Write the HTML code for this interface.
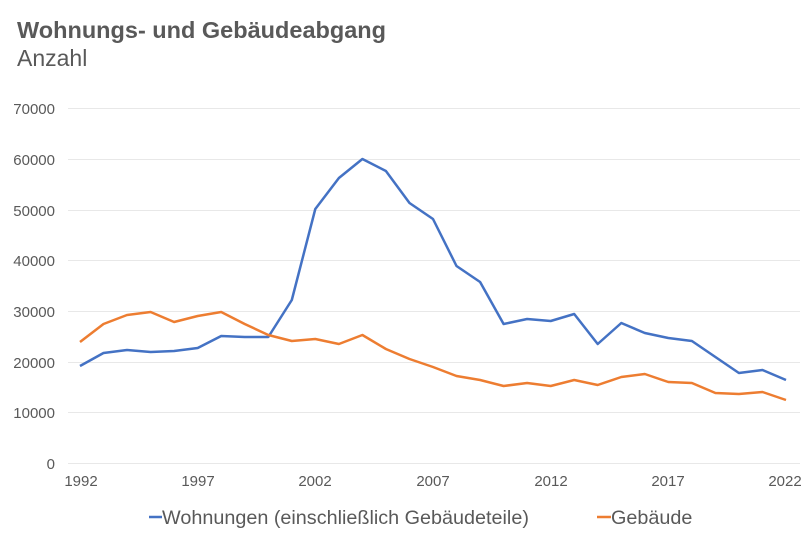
<!DOCTYPE html>
<html><head><meta charset="utf-8"><style>
body{margin:0;background:#fff;font-family:"Liberation Sans",sans-serif;}
</style></head><body>
<svg width="810" height="540" xmlns="http://www.w3.org/2000/svg" font-family="Liberation Sans, sans-serif">
<rect width="810" height="540" fill="#fff"/>
<text x="17" y="38" font-size="23.5" font-weight="bold" fill="#595959">Wohnungs- und Gebäudeabgang</text>
<text x="17" y="66" font-size="23" fill="#595959">Anzahl</text>
<g stroke="#e8e8e8" stroke-width="1">
<line x1="68" x2="800" y1="108.5" y2="108.5"/>
<line x1="68" x2="800" y1="159.5" y2="159.5"/>
<line x1="68" x2="800" y1="210.5" y2="210.5"/>
<line x1="68" x2="800" y1="260.5" y2="260.5"/>
<line x1="68" x2="800" y1="311.5" y2="311.5"/>
<line x1="68" x2="800" y1="362.5" y2="362.5"/>
<line x1="68" x2="800" y1="412.5" y2="412.5"/>
<line x1="68" x2="800" y1="463.5" y2="463.5"/>
</g>
<g font-size="15" fill="#595959" text-anchor="end">
<text x="55" y="114">70000</text><text x="55" y="165">60000</text><text x="55" y="216">50000</text>
<text x="55" y="266">40000</text><text x="55" y="317">30000</text><text x="55" y="368">20000</text>
<text x="55" y="418">10000</text><text x="55" y="469">0</text>
</g>
<g font-size="15" fill="#595959" text-anchor="middle">
<text x="81" y="486">1992</text><text x="198" y="486">1997</text><text x="315" y="486">2002</text>
<text x="433" y="486">2007</text><text x="551" y="486">2012</text><text x="668" y="486">2017</text><text x="785" y="486">2022</text>
</g>
<polyline fill="none" stroke="#4472c4" stroke-width="2.5" stroke-linejoin="round" points="80,366 103.5,353 127,350 150.6,352 174.1,351 197.7,348 221.2,336 244.7,337 268.3,337 291.8,300 315.3,209 338.9,178 362.4,159 385.9,171 409.5,203 433,219 456.5,266 480.1,282 503.6,324 527.1,319 550.7,321 574.2,314 597.7,344 621.3,323 644.8,333 668.3,338 691.9,341 715.4,357 738.9,373 762.5,370 786,380"/>
<polyline fill="none" stroke="#ed7d31" stroke-width="2.5" stroke-linejoin="round" points="80,342 103.5,324 127,315 150.6,312 174.1,322 197.7,316 221.2,312 244.7,324 268.3,335 291.8,341 315.3,339 338.9,344 362.4,335 385.9,349 409.5,359 433,367 456.5,376 480.1,380 503.6,386 527.1,383 550.7,386 574.2,380 597.7,385 621.3,377 644.8,374 668.3,382 691.9,383 715.4,393 738.9,394 762.5,392 786,400"/>
<line x1="149" x2="162" y1="517" y2="517" stroke="#4472c4" stroke-width="2.5"/>
<text x="162" y="524" font-size="19.8" fill="#595959">Wohnungen (einschließlich Gebäudeteile)</text>
<line x1="597" x2="611" y1="517" y2="517" stroke="#ed7d31" stroke-width="2.5"/>
<text x="611" y="524" font-size="19.8" fill="#595959">Gebäude</text>
</svg>
</body></html>
